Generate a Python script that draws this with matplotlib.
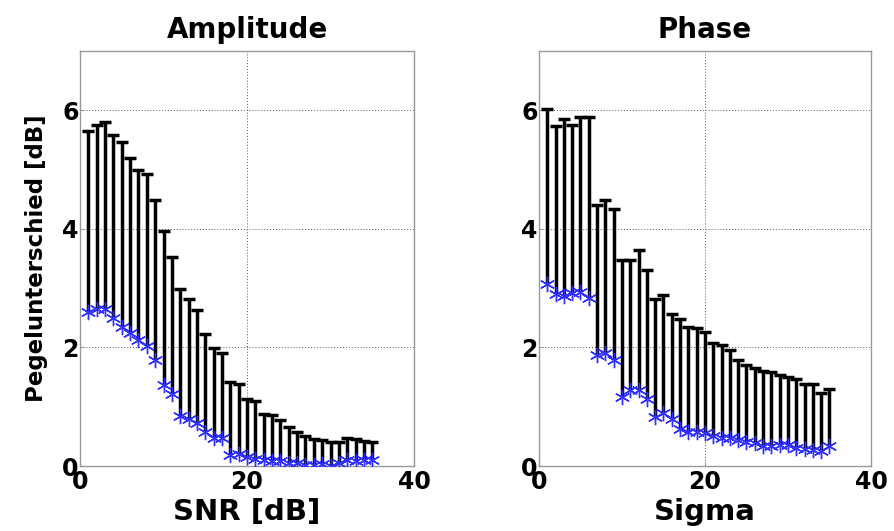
import numpy as np
import matplotlib
matplotlib.use("Agg")
import matplotlib.pyplot as plt

plt.rcParams['font.family'] = ['DejaVu Sans']
plt.rcParams['font.weight'] = 'bold'

x = np.arange(1, 36)

# Amplitude: lower end (stars) and upper end (caps)
amp_lower = [2.59, 2.64, 2.65, 2.49, 2.35, 2.25, 2.12, 2.02, 1.78, 1.36,
             1.22, 0.84, 0.80, 0.72, 0.58, 0.47, 0.47, 0.18, 0.20, 0.15,
             0.12, 0.10, 0.08, 0.08, 0.05, 0.05, 0.02, 0.02, 0.03, 0.00,
             0.05, 0.10, 0.08, 0.10, 0.10]
amp_upper = [5.65, 5.76, 5.80, 5.58, 5.46, 5.20, 5.00, 4.92, 4.48, 3.97,
             3.52, 2.99, 2.82, 2.63, 2.22, 1.99, 1.91, 1.42, 1.38, 1.13,
             1.09, 0.87, 0.86, 0.77, 0.65, 0.57, 0.51, 0.45, 0.44, 0.41,
             0.40, 0.47, 0.46, 0.42, 0.40]

# Phase
ph_lower = [3.07, 2.90, 2.87, 2.92, 2.93, 2.83, 1.87, 1.91, 1.79, 1.16,
            1.28, 1.28, 1.13, 0.83, 0.89, 0.80, 0.63, 0.57, 0.58, 0.56,
            0.51, 0.48, 0.47, 0.44, 0.40, 0.39, 0.34, 0.34, 0.36, 0.35,
            0.31, 0.28, 0.27, 0.25, 0.33]
ph_upper = [6.03, 5.73, 5.85, 5.76, 5.88, 5.88, 4.40, 4.49, 4.34, 3.48,
            3.48, 3.64, 3.30, 2.82, 2.89, 2.56, 2.48, 2.35, 2.33, 2.26,
            2.07, 2.04, 1.96, 1.79, 1.70, 1.65, 1.60, 1.58, 1.54, 1.50,
            1.47, 1.38, 1.38, 1.23, 1.30]

fig = plt.figure(figsize=(8.95, 5.31), dpi=100)
W, H = 895, 531
ax1 = fig.add_axes([80 / W, 1 - 466 / H, 334 / W, 415 / H])
ax2 = fig.add_axes([539 / W, 1 - 466 / H, 332 / W, 415 / H])


def draw(ax, lower, upper, title, xlabel):
    ax.vlines(x, lower, upper, colors='black', linewidth=2.5, zorder=3)
    ax.plot(x, upper, linestyle='none', marker='_', markersize=9,
            markeredgewidth=2.5, color='black', zorder=3)
    ax.plot(x, lower, linestyle='none', marker=(6, 2, 0), markersize=11,
            markeredgewidth=1.0, color='#3030ff', zorder=4)
    ax.set_xlim(0, 40)
    ax.set_ylim(0, 7)
    ax.set_xticks([0, 20, 40])
    ax.set_yticks([0, 2, 4, 6])
    ax.grid(True, linestyle=(0, (1, 2)), color='#555555', linewidth=0.7)
    ax.tick_params(direction='in', length=3, labelsize=17, pad=3,
                   colors='#999999', labelcolor='black')
    ax.tick_params(axis='y', pad=1)
    for s in ax.spines.values():
        s.set_color('#999999')
        s.set_linewidth(1.0)
    ax.set_title(title, fontsize=20, fontweight='bold', pad=9)
    ax.set_xlabel(xlabel, fontsize=21, fontweight='bold', labelpad=3)


draw(ax1, amp_lower, amp_upper, 'Amplitude', 'SNR [dB]')
draw(ax2, ph_lower, ph_upper, 'Phase', 'Sigma')
ax1.set_ylabel('Pegelunterschied [dB]', fontsize=16.5, fontweight='bold', labelpad=10)

fig.savefig('out.png', dpi=100)
